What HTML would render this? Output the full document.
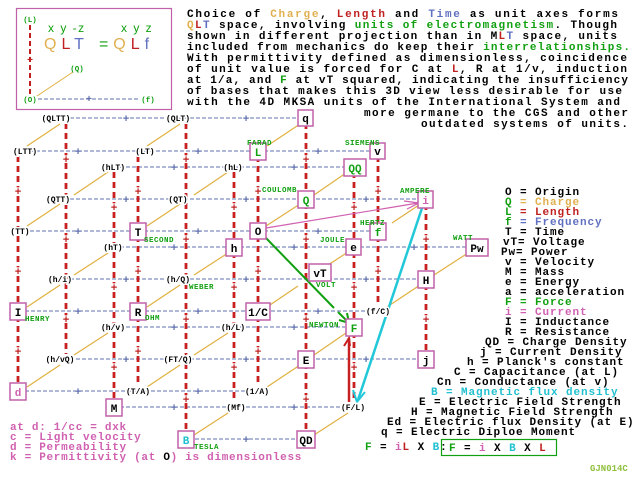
<!DOCTYPE html>
<html><head><meta charset="utf-8"><style>
html,body{margin:0;padding:0;background:#fff;}
svg{display:block;}
text{font-family:"Liberation Mono",monospace;font-weight:bold;}
</style></head><body>
<svg width="640" height="480" viewBox="0 0 640 480" xmlns="http://www.w3.org/2000/svg">
<rect width="640" height="480" fill="#fff"/>
<!-- top-left box -->
<rect x="16.5" y="8.5" width="155" height="101" fill="none" stroke="#c060a8" stroke-width="1.2"/>
<line x1="30" y1="25" x2="30" y2="95" stroke="#c02020" stroke-width="2" stroke-dasharray="5,3"/>
<text x="30" y="63" font-size="10" fill="#c02020" text-anchor="middle">+</text>
<line x1="38" y1="99" x2="140" y2="99" stroke="#6070b0" stroke-width="1" stroke-dasharray="4,2"/>
<text x="89" y="102" font-size="10" fill="#6070b0" text-anchor="middle">+</text>
<line x1="37" y1="96" x2="73" y2="72" stroke="#e0b040" stroke-width="1"/>
<g font-size="7.5" fill="#10a010" text-anchor="middle">
<text x="30" y="22">(L)</text><text x="77" y="71">(Q)</text><text x="30" y="102">(O)</text><text x="148" y="102">(f)</text>
</g>
<text x="48" y="32" font-size="12" fill="#10a010" style="font-family:'Liberation Sans',sans-serif;font-weight:normal" letter-spacing="1.5">x y -z</text>
<text x="121" y="32" font-size="12" fill="#10a010" style="font-family:'Liberation Sans',sans-serif;font-weight:normal" letter-spacing="1.5">x y z</text>
<text x="44" y="49" font-size="16" style="font-family:'Liberation Sans',sans-serif;font-weight:normal" letter-spacing="5"><tspan fill="#e0b050">Q</tspan><tspan fill="#c02020">L</tspan><tspan fill="#6070c0">T</tspan><tspan fill="#10a010" dx="10">=</tspan><tspan fill="#e0b050">Q</tspan><tspan fill="#c02020">L</tspan><tspan fill="#6070c0">f</tspan></text>

<!-- paragraph -->
<g font-size="11" fill="#000">
<text x="187" y="17" textLength="431" lengthAdjust="spacing">Choice of <tspan fill="#e0b050">Charge</tspan>, <tspan fill="#c02020">Length</tspan> and <tspan fill="#6070c0">Time</tspan> as unit axes forms</text>
<text x="187" y="28" textLength="430" lengthAdjust="spacing"><tspan fill="#e0b050">Q</tspan><tspan fill="#c02020">L</tspan><tspan fill="#6070c0">T</tspan> space, involving <tspan fill="#10a010">units of electromagnetism</tspan>.  Though</text>
<text x="187" y="39" textLength="430" lengthAdjust="spacing">shown in different projection than in M<tspan fill="#c02020">L</tspan><tspan fill="#6070c0">T</tspan> space, units</text>
<text x="187" y="50" textLength="443" lengthAdjust="spacing">included from mechanics do keep their <tspan fill="#10a010">interrelationships.</tspan></text>
<text x="187" y="61" textLength="440" lengthAdjust="spacing">With permittivity defined as dimensionless, coincidence</text>
<text x="187" y="72" textLength="440" lengthAdjust="spacing">of unit value is forced for C at <tspan fill="#c02020">L</tspan>, R at 1/v, induction</text>
<text x="187" y="83" textLength="441" lengthAdjust="spacing">at 1/a, and <tspan fill="#10a010">F</tspan> at vT squared, indicating the insufficiency</text>
<text x="187" y="94" textLength="435" lengthAdjust="spacing">of bases that makes this 3D view less desirable for use</text>
<text x="187" y="105" textLength="433" lengthAdjust="spacing">with the 4D MKSA units of the International System  and</text>
<text x="364" y="116" textLength="264" lengthAdjust="spacing">more germane to the CGS and other</text>
<text x="421" y="127" textLength="207" lengthAdjust="spacing">outdated systems of units.</text>
</g>

<!-- horizontal blue dashed lines -->
<g stroke="#6070b0" stroke-width="1" stroke-dasharray="4,2">
<line x1="70" y1="118" x2="300" y2="118"/>
<line x1="30" y1="151" x2="372" y2="151"/>
<line x1="120" y1="167" x2="345" y2="167"/>
<line x1="70" y1="199" x2="420" y2="199"/>
<line x1="30" y1="231" x2="372" y2="231"/>
<line x1="120" y1="247" x2="466" y2="247"/>
<line x1="70" y1="279" x2="420" y2="279"/>
<line x1="25" y1="311" x2="372" y2="311"/>
<line x1="120" y1="327" x2="345" y2="327"/>
<line x1="70" y1="359" x2="420" y2="359"/>
<line x1="25" y1="391" x2="252" y2="391"/>
<line x1="120" y1="407" x2="345" y2="407"/>
<line x1="195" y1="439" x2="300" y2="439"/>
</g>
<g font-size="11" fill="#6070b0" text-anchor="middle">
<text x="126" y="122">+</text><text x="246" y="122">+</text>
<text x="78" y="155">+</text><text x="198" y="155">+</text><text x="318" y="155">+</text>
<text x="174" y="171">+</text><text x="294" y="171">+</text>
<text x="126" y="203">+</text><text x="246" y="203">+</text><text x="366" y="203">+</text>
<text x="78" y="235">+</text><text x="198" y="235">+</text><text x="318" y="235">+</text>
<text x="174" y="251">+</text><text x="294" y="251">+</text><text x="414" y="251">+</text>
<text x="126" y="283">+</text><text x="246" y="283">+</text><text x="366" y="283">+</text>
<text x="78" y="315">+</text><text x="198" y="315">+</text><text x="318" y="315">+</text>
<text x="174" y="331">+</text><text x="294" y="331">+</text>
<text x="126" y="363">+</text><text x="246" y="363">+</text><text x="366" y="363">+</text>
<text x="78" y="395">+</text><text x="198" y="395">+</text>
<text x="174" y="411">+</text><text x="294" y="411">+</text>
<text x="246" y="443">+</text>
</g>

<!-- red vertical dashed -->
<g stroke="#c82020" stroke-width="2.8" stroke-dasharray="6,4">
<line x1="18" y1="156" x2="18" y2="386"/>
<line x1="66" y1="123" x2="66" y2="354"/>
<line x1="114" y1="172" x2="114" y2="402"/>
<line x1="138" y1="156" x2="138" y2="386"/>
<line x1="186" y1="123" x2="186" y2="434"/>
<line x1="234" y1="172" x2="234" y2="402"/>
<line x1="258" y1="156" x2="258" y2="386"/>
<line x1="306" y1="123" x2="306" y2="434"/>
<line x1="354" y1="172" x2="354" y2="402"/>
<line x1="378" y1="156" x2="378" y2="306"/>
<line x1="426" y1="204" x2="426" y2="354"/>
</g>
<g font-size="11" fill="#c02020" text-anchor="middle" stroke="#fff" stroke-width="2" paint-order="stroke">
<text x="18" y="195">+</text><text x="18" y="275">+</text><text x="18" y="355">+</text>
<text x="66" y="163">+</text><text x="66" y="243">+</text><text x="66" y="323">+</text>
<text x="114" y="211">+</text><text x="114" y="291">+</text><text x="114" y="371">+</text>
<text x="138" y="195">+</text><text x="138" y="275">+</text><text x="138" y="355">+</text>
<text x="186" y="163">+</text><text x="186" y="243">+</text><text x="186" y="323">+</text><text x="186" y="403">+</text>
<text x="234" y="211">+</text><text x="234" y="291">+</text><text x="234" y="371">+</text>
<text x="258" y="195">+</text><text x="258" y="275">+</text><text x="258" y="355">+</text>
<text x="306" y="163">+</text><text x="306" y="243">+</text><text x="306" y="323">+</text><text x="306" y="403">+</text>
<text x="354" y="211">+</text><text x="354" y="291">+</text><text x="354" y="371">+</text>
<text x="378" y="195">+</text><text x="378" y="275">+</text>
<text x="426" y="243">+</text><text x="426" y="323">+</text>
</g>

<!-- yellow diagonals -->
<g stroke="#e0b040" stroke-width="1.2">
<line x1="27" y1="146" x2="60" y2="124"/>
<line x1="147" y1="146" x2="180" y2="124"/>
<line x1="267" y1="146" x2="300" y2="124"/>
<line x1="27" y1="226" x2="60" y2="204"/>
<line x1="74" y1="195" x2="108" y2="172"/>
<line x1="147" y1="226" x2="180" y2="204"/>
<line x1="194" y1="195" x2="228" y2="172"/>
<line x1="266" y1="226" x2="300" y2="204"/>
<line x1="314" y1="195" x2="346" y2="173"/>
<line x1="392" y1="223" x2="419" y2="205"/>
<line x1="74" y1="275" x2="108" y2="253"/>
<line x1="194" y1="275" x2="228" y2="253"/>
<line x1="325" y1="267" x2="348" y2="252"/>
<line x1="434" y1="275" x2="468" y2="253"/>
<line x1="27" y1="307" x2="60" y2="285"/>
<line x1="147" y1="307" x2="180" y2="285"/>
<line x1="267" y1="307" x2="298" y2="286"/>
<line x1="387" y1="307" x2="420" y2="285"/>
<line x1="74" y1="355" x2="108" y2="333"/>
<line x1="194" y1="355" x2="228" y2="333"/>
<line x1="314" y1="355" x2="346" y2="333"/>
<line x1="27" y1="387" x2="60" y2="365"/>
<line x1="147" y1="387" x2="180" y2="365"/>
<line x1="267" y1="387" x2="300" y2="365"/>
<line x1="194" y1="435" x2="228" y2="413"/>
<line x1="314" y1="435" x2="348" y2="413"/>
</g>

<!-- colored arrows -->
<line x1="266" y1="228" x2="418" y2="203" stroke="#d060b0" stroke-width="1.2"/>
<polyline points="404,201 419,203 407,209" fill="none" stroke="#d060b0" stroke-width="1.2"/>
<line x1="265" y1="237" x2="334" y2="308" stroke="#10a010" stroke-width="2"/>
<line x1="338" y1="312" x2="348" y2="322" stroke="#10a010" stroke-width="2"/>
<polyline points="339,320 349,323 347,313" fill="none" stroke="#10a010" stroke-width="2"/>
<line x1="422" y1="208" x2="358" y2="400" stroke="#20c8d8" stroke-width="2.5"/>
<polyline points="353,390 357,402 365,392" fill="none" stroke="#20c8d8" stroke-width="2"/>
<line x1="349" y1="402" x2="349" y2="338" stroke="#c82020" stroke-width="2.5"/>
<polyline points="344,346 349,338 350,346" fill="none" stroke="#c82020" stroke-width="2"/>

<!-- paren labels -->
<g font-size="8" fill="#000" text-anchor="middle" stroke="#fff" stroke-width="3" paint-order="stroke">
<text x="56" y="121">(QLTT)</text><text x="178" y="121">(QLT)</text>
<text x="25" y="154">(LTT)</text><text x="145" y="154">(LT)</text>
<text x="113" y="170">(hLT)</text><text x="233" y="170">(hL)</text>
<text x="58" y="202">(QTT)</text><text x="178" y="202">(QT)</text>
<text x="20" y="234">(TT)</text>
<text x="113" y="250">(hT)</text>
<text x="60" y="282">(h/i)</text><text x="178" y="282">(h/Q)</text>
<text x="113" y="330">(h/v)</text><text x="233" y="330">(h/L)</text>
<text x="378" y="314">(f/C)</text>
<text x="60" y="362">(h/vQ)</text><text x="178" y="362">(FT/Q)</text>
<text x="138" y="394">(T/A)</text><text x="257" y="394">(1/A)</text>
<text x="236" y="410">(Mf)</text><text x="353" y="410">(F/L)</text>
</g>

<!-- boxed nodes -->
<g stroke="#c060a8" stroke-width="1.5" fill="#fff">
<rect x="298" y="110" width="15" height="16"/>
<rect x="250" y="143" width="16" height="17"/>
<rect x="370" y="143" width="15" height="16"/>
<rect x="344" y="159" width="22" height="17"/>
<rect x="298" y="191" width="16" height="17"/>
<rect x="418" y="191" width="15" height="17"/>
<rect x="130" y="223" width="16" height="17"/>
<rect x="250" y="223" width="16" height="16"/>
<rect x="370" y="223" width="16" height="17"/>
<rect x="226" y="239" width="16" height="17"/>
<rect x="346" y="239" width="15" height="16"/>
<rect x="466" y="239" width="22" height="17"/>
<rect x="309" y="264" width="22" height="17"/>
<rect x="418" y="271" width="16" height="17"/>
<rect x="10" y="303" width="16" height="17"/>
<rect x="130" y="303" width="16" height="17"/>
<rect x="246" y="303" width="24" height="17"/>
<rect x="346" y="319" width="16" height="17"/>
<rect x="298" y="351" width="16" height="17"/>
<rect x="418" y="351" width="16" height="17"/>
<rect x="10" y="383" width="16" height="17"/>
<rect x="106" y="399" width="16" height="17"/>
<rect x="178" y="431" width="16" height="17"/>
<rect x="297" y="431" width="18" height="17"/>
</g>
<g font-size="11" text-anchor="middle" fill="#000">
<text x="305.5" y="122">q</text>
<text x="258" y="156" fill="#10a010">L</text>
<text x="377.5" y="155">v</text>
<text x="355" y="172" fill="#10a010">QQ</text>
<text x="306" y="204" fill="#10a010">Q</text>
<text x="425.5" y="204" fill="#d060b0">i</text>
<text x="138" y="236">T</text>
<text x="258" y="235">O</text>
<text x="378" y="236" fill="#10a010">f</text>
<text x="234" y="252">h</text>
<text x="353.5" y="251">e</text>
<text x="477" y="252">Pw</text>
<text x="320" y="277">vT</text>
<text x="426" y="284">H</text>
<text x="18" y="316">I</text>
<text x="138" y="316">R</text>
<text x="258" y="316">1/C</text>
<text x="354" y="332" fill="#10a010">F</text>
<text x="306" y="364">E</text>
<text x="426" y="364">j</text>
<text x="18" y="396" fill="#d060b0">d</text>
<text x="114" y="412">M</text>
<text x="186" y="444" fill="#20c0d0">B</text>
<text x="306" y="444">QD</text>
</g>

<!-- unit names -->
<g font-size="7.5" fill="#10a010" style="font-weight:normal" letter-spacing="0.5">
<text x="247" y="145">FARAD</text>
<text x="345" y="145">SIEMENS</text>
<text x="262" y="192">COULOMB</text>
<text x="400" y="193">AMPERE</text>
<text x="360" y="225">HERTZ</text>
<text x="320" y="242">JOULE</text>
<text x="453" y="240">WATT</text>
<text x="144" y="242">SECOND</text>
<text x="316" y="287">VOLT</text>
<text x="189" y="289">WEBER</text>
<text x="309" y="327">NEWTON</text>
<text x="25" y="321">HENRY</text>
<text x="145" y="320">OHM</text>
<text x="194" y="449">TESLA</text>
</g>

<!-- right legend -->
<g font-size="11" fill="#000" letter-spacing="0.9">
<text x="505" y="195">O = Origin</text>
<text x="505" y="205"><tspan fill="#10a010">Q</tspan><tspan fill="#e0b050"> = Charge</tspan></text>
<text x="505" y="215"><tspan fill="#10a010">L</tspan><tspan fill="#c02020"> = Length</tspan></text>
<text x="505" y="225"><tspan fill="#10a010">f</tspan><tspan fill="#6070c0"> = Frequency</tspan></text>
<text x="505" y="235">T = Time</text>
<text x="503" y="245">vT= Voltage</text>
<text x="501" y="255">Pw= Power</text>
<text x="505" y="265">v = Velocity</text>
<text x="505" y="275">M = Mass</text>
<text x="505" y="285">e = Energy</text>
<text x="505" y="295">a = acceleration</text>
<text x="505" y="305" fill="#10a010">F = Force</text>
<text x="505" y="315" fill="#d060b0">i = Current</text>
<text x="505" y="325">I = Inductance</text>
<text x="505" y="335">R = Resistance</text>
<text x="485" y="345">QD = Charge Density</text>
<text x="480" y="355">j = Current Density</text>
<text x="467" y="365">h = Planck's constant</text>
<text x="454" y="375">C = Capacitance (at L)</text>
<text x="437" y="385">Cn = Conductance (at v)</text>
<text x="431" y="395" fill="#20c0d0">B = Magnetic flux density</text>
<text x="419" y="405">E = Electric Field Strength</text>
<text x="411" y="415">H = Magnetic Field Strength</text>
<text x="387" y="425">Ed = Electric flux Density (at E)</text>
<text x="381" y="435">q = Electric Diploe Moment</text>
<text x="365" y="450"><tspan fill="#10a010">F</tspan> = <tspan fill="#d060b0">i</tspan><tspan fill="#c02020">L</tspan> X <tspan fill="#20c0d0">B</tspan>:</text>
</g>
<rect x="441.5" y="439.5" width="115" height="16" fill="none" stroke="#10a010" stroke-width="1.2"/>
<text x="449" y="451" font-size="11" letter-spacing="0.9" fill="#000"><tspan fill="#10a010">F</tspan>  =  <tspan fill="#d060b0">i</tspan>  X  <tspan fill="#20c0d0">B</tspan>  X  <tspan fill="#c02020">L</tspan></text>

<!-- bottom-left legend -->
<g font-size="11" fill="#d060b0" letter-spacing="0.7">
<text x="10" y="430">at d: 1/cc = dxk</text>
<text x="10" y="440">c = Light velocity</text>
<text x="10" y="450">d = Permeability</text>
<text x="10" y="460">k = Permittivity (at <tspan fill="#000">O</tspan>) is dimensionless</text>
</g>
<text x="590" y="471" font-size="9" fill="#90c040">GJN014C</text>
</svg>
</body></html>
